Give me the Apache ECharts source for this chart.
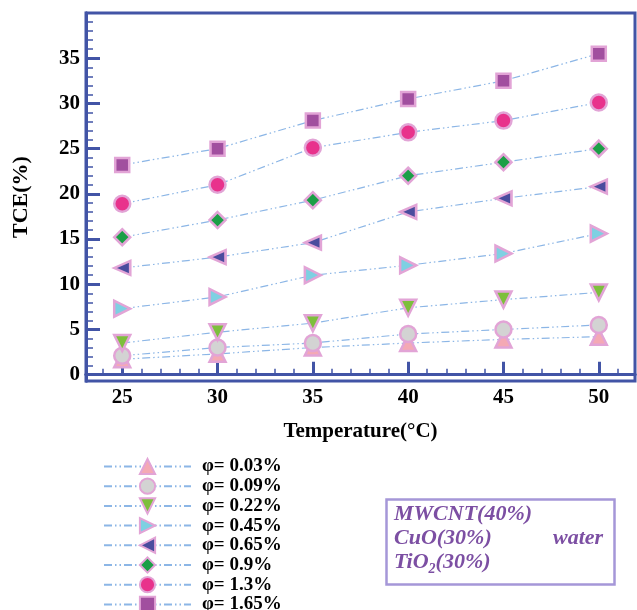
<!DOCTYPE html>
<html>
<head>
<meta charset="utf-8">
<script src="https://cdn.jsdelivr.net/npm/echarts@6/dist/echarts.min.js"></script>
<style>
    html, body { margin: 0; padding: 0; background: #fff; }
    #chart { width: 637px; height: 610px; }
</style>
</head>
<body>
<div id="chart"></div>
<script>
// temperature (°C)
let temps = [25, 30, 35, 40, 45, 50];
// TCE (%) per volume fraction
let tce003 = [1.7, 2.3, 3.0, 3.5, 3.9, 4.2];
let tce009 = [2.1, 3.0, 3.5, 4.5, 5.0, 5.5];
let tce022 = [3.5, 4.7, 5.7, 7.4, 8.3, 9.1];
let tce045 = [7.3, 8.6, 11.0, 12.1, 13.4, 15.6];
let tce065 = [11.8, 13.0, 14.6, 18.0, 19.5, 20.8];
let tce090 = [15.2, 17.1, 19.3, 22.0, 23.5, 25.0];
let tce130 = [18.9, 21.0, 25.1, 26.8, 28.1, 30.1];
let tce165 = [23.2, 25.0, 28.1, 30.5, 32.5, 35.5];
let names = ['φ= 0.03%', 'φ= 0.09%', 'φ= 0.22%', 'φ= 0.45%', 'φ= 0.65%', 'φ= 0.9%', 'φ= 1.3%', 'φ= 1.65%'];
let xMajor = [25, 30, 35, 40, 45, 50];
let xMinor = [24, 26, 27, 28, 29, 31, 32, 33, 34, 36, 37, 38, 39, 41, 42, 43, 44, 46, 47, 48, 49, 51];
let yMajor = [0, 5, 10, 15, 20, 25, 30, 35];
let yMinor = [1, 2, 3, 4, 6, 7, 8, 9, 11, 12, 13, 14, 16, 17, 18, 19, 21, 22, 23, 24, 26, 27, 28, 29, 31, 32, 33, 34, 36, 37, 38, 39];

const FONT = 'Liberation Serif';
const AXIS = '#4254a6';
const EDGE = '#e2a4d6';
const LINE = '#8cb6e6';
const NOTE = 'italic bold 22px "Liberation Serif"';

let chart = echarts.init(document.getElementById('chart'));

// symbol, rotate, fill, size
let looks = [
    ['triangle', 0, '#f4a9b4', 16],
    ['circle', 0, '#d3d3d3', 16],
    ['triangle', 180, '#7dbf3c', 16],
    ['triangle', -90, '#7ed0e2', 16],
    ['triangle', 90, '#4a4c9e', [14, 16]],
    ['diamond', 0, '#1b9f46', 16],
    ['circle', 0, '#e8328c', 16],
    ['rect', 0, '#a14f9f', 14]
];
let data = [tce003, tce009, tce022, tce045, tce065, tce090, tce130, tce165];

let series = data.map(function (vals, i) {
    return {
        name: names[i],
        type: 'line',
        xAxisIndex: 0,
        yAxisIndex: 0,
        symbol: looks[i][0],
        symbolRotate: looks[i][1],
        symbolSize: looks[i][3],
        lineStyle: { color: LINE, width: 1.2, type: [8, 3, 1.5, 3, 1.5, 3] },
        itemStyle: { color: looks[i][2], borderColor: EDGE, borderWidth: 2.5 },
        data: temps.map(function (t, k) { return [t, vals[k]]; })
    };
});

let xAxisBase = {
    type: 'value', min: 23.1, max: 51.9, position: 'bottom',
    splitLine: { show: false },
    axisLine: { show: true, lineStyle: { color: AXIS, width: 3 } }
};
let yAxisBase = {
    type: 'value', min: -0.7, max: 40, position: 'left',
    splitLine: { show: false },
    axisLine: { show: true, lineStyle: { color: AXIS, width: 3 } }
};

let option = {
    animation: false,
    grid: { left: 86, right: 2, top: 13, bottom: 229, show: true, borderColor: AXIS, borderWidth: 3 },
    xAxis: [
        Object.assign({}, xAxisBase, {
            name: 'Temperature(°C)', nameLocation: 'middle', nameGap: 40,
            nameTextStyle: { fontFamily: FONT, fontWeight: 'bold', fontSize: 21, color: '#000' },
            axisTick: { show: true, inside: true, length: 13, customValues: xMajor, lineStyle: { color: AXIS, width: 3 } },
            axisLabel: { show: true, customValues: xMajor, margin: 6, fontFamily: FONT, fontWeight: 'bold', fontSize: 21, color: '#000' }
        }),
        Object.assign({}, xAxisBase, {
            axisTick: { show: true, inside: true, length: 6, customValues: xMinor, lineStyle: { color: AXIS, width: 1.5 } },
            axisLabel: { show: false }
        })
    ],
    yAxis: [
        Object.assign({}, yAxisBase, {
            name: 'TCE(%)', nameLocation: 'middle', nameGap: 54, nameRotate: 90,
            nameTextStyle: { fontFamily: FONT, fontWeight: 'bold', fontSize: 22, color: '#000' },
            axisTick: { show: true, inside: true, length: 14, customValues: yMajor, lineStyle: { color: AXIS, width: 3 } },
            axisLabel: { show: true, customValues: yMajor, margin: 6, fontFamily: FONT, fontWeight: 'bold', fontSize: 21, color: '#000' }
        }),
        Object.assign({}, yAxisBase, {
            axisTick: { show: true, inside: true, length: 7, customValues: yMinor, lineStyle: { color: AXIS, width: 1.5 } },
            axisLabel: { show: false }
        })
    ],
    legend: {
        orient: 'vertical',
        left: 98,
        top: 452,
        height: 200,
        itemWidth: 87,
        itemHeight: 19,
        itemGap: 0.7,
        data: names,
        textStyle: { fontFamily: FONT, fontWeight: 'bold', fontSize: 19, lineHeight: 19, color: '#000', padding: [0, 0, 0, 6] }
    },
    graphic: [
        { type: 'rect', left: 384, top: 497, shape: { width: 228, height: 85 }, style: { fill: 'none', stroke: '#a597d8', lineWidth: 2.5 } },
        { type: 'text', left: 394, top: 503, style: { text: 'MWCNT(40%)', font: NOTE, fill: '#7c4fa3' } },
        { type: 'text', left: 394, top: 527, style: { text: 'CuO(30%)', font: NOTE, fill: '#7c4fa3' } },
        { type: 'text', left: 553, top: 527, style: { text: 'water', font: NOTE, fill: '#7c4fa3' } },
        {
            type: 'text', left: 394, top: 551,
            style: {
                text: 'TiO{s|2}(30%)', font: NOTE, fill: '#7c4fa3',
                rich: { s: { font: 'italic bold 14px "Liberation Serif"', fill: '#7c4fa3', padding: [14, 0, 0, 0] } }
            }
        }
    ],
    series: series
};
chart.setOption(option);
</script>
</body>
</html>
